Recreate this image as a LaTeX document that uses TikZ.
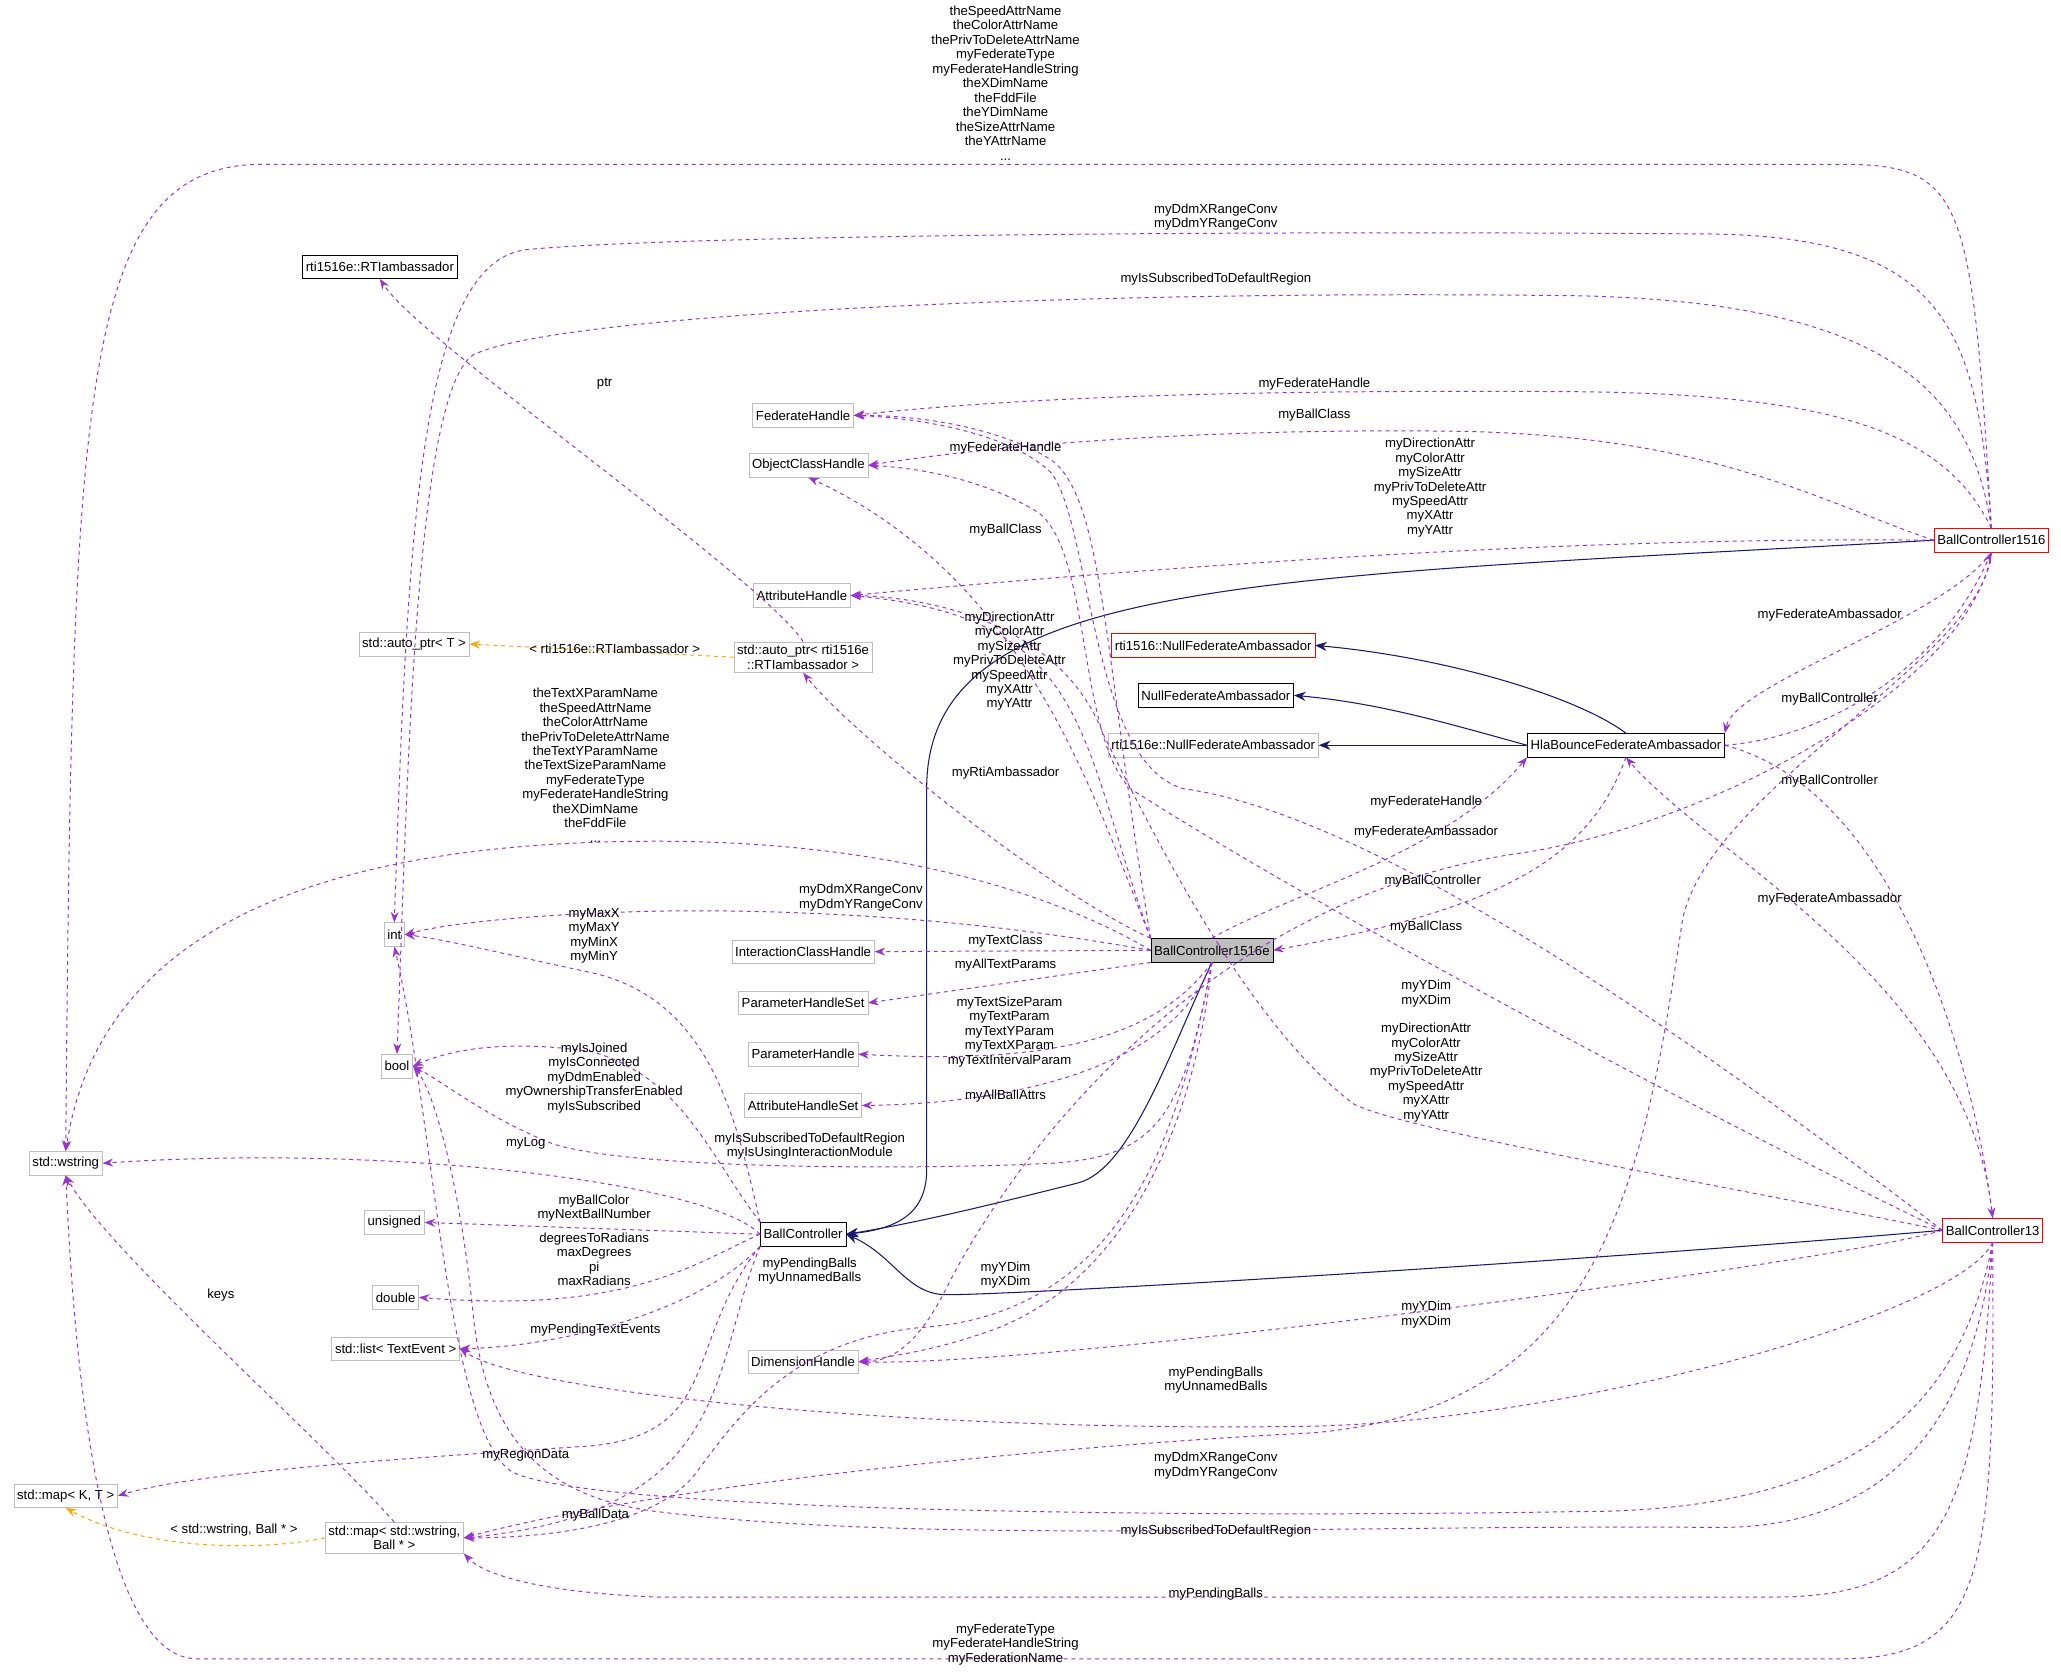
\documentclass[tikz,border=0pt]{standalone}
\usepackage{fontspec}
\setmainfont{Liberation Sans}
\usetikzlibrary{arrows.meta}
\definecolor{dp}{HTML}{9A32CD}
\definecolor{nv}{HTML}{191970}
\definecolor{gb}{HTML}{BFBFBF}
\definecolor{or}{HTML}{FFA500}
\begin{document}
\begin{tikzpicture}[x=1pt,y=-1pt,
 every node/.style={font=\fontsize{10}{11}\selectfont},
 bx/.style={draw=gb,fill=white,inner sep=2.5pt,minimum height=18,align=center},
 bb/.style={bx,draw=black},
 br/.style={bx,draw=red},
 lb/.style={align=center,inner sep=0pt},
 dep/.style={draw=dp,dashed,line width=0.75pt,-{Stealth[length=8,width=6]}},
 inh/.style={draw=nv,thick,-{Stealth[length=9,width=7]}},
 tpl/.style={draw=or,dashed,line width=0.75pt,-{Stealth[length=8,width=6]}}]
\useasboundingbox (0,0) rectangle (1568,1276);
% nodes
\node[bb] (rti) at (289,203) {rti1516e::RTIambassador};
\node[bx] (fh) at (611,316) {FederateHandle};
\node[bx] (och) at (615,354) {ObjectClassHandle};
\node[bx] (ah) at (610,453) {AttributeHandle};
\node[bx] (apt) at (315,490) {std::auto\_ptr< T >};
\node[bx] (apr) at (611,500) {std::auto\_ptr< rti1516e\\::RTIambassador >};
\node[br] (nfa1) at (923,491) {rti1516::NullFederateAmbassador};
\node[bb] (nfa) at (925,529) {NullFederateAmbassador};
\node[bx] (nfa2) at (923,567) {rti1516e::NullFederateAmbassador};
\node[bb] (hla) at (1237,567) {HlaBounceFederateAmbassador};
\node[br] (b16) at (1515,411) {BallController1516};
\node[bx] (int) at (300,711) {int};
\node[bx] (ich) at (611,724) {InteractionClassHandle};
\node[bb,fill=gb] (b16e) at (922,723) {BallController1516e};
\node[bx] (phs) at (611,763) {ParameterHandleSet};
\node[bx] (bool) at (302,811) {bool};
\node[bx] (ph) at (611,802) {ParameterHandle};
\node[bx] (ahs) at (611,841) {AttributeHandleSet};
\node[bx] (ws) at (50,885) {std::wstring};
\node[bx] (uns) at (300,930) {unsigned};
\node[bb] (bc) at (611,939) {BallController};
\node[br] (b13) at (1516,936) {BallController13};
\node[bx] (dbl) at (301,987) {double};
\node[bx] (lst) at (301,1026) {std::list< TextEvent >};
\node[bx] (dh) at (611,1036) {DimensionHandle};
\node[bx] (mkt) at (50,1138) {std::map< K, T >};
\node[bx] (mwb) at (300,1170) {std::map< std::wstring,\\Ball * >};
% inheritance
\draw[inh] (b16.west) .. controls (950,440) and (705,440) .. (705,600) -- (705,890) .. controls (705,925) and (680,935) .. (bc.east);
\draw[inh] (b16e.south) .. controls (890,800) and (860,890) .. (820,900) .. controls (760,915) and (700,930) .. (bc.east);
\draw[inh] (b13.west) .. controls (1200,960) and (780,985) .. (720,985) .. controls (690,985) and (680,955) .. (bc.east);
\draw[inh] (hla.north) .. controls (1200,530) and (1100,500) .. (nfa1.east);
\draw[inh] (hla.west) .. controls (1100,550) and (1050,535) .. (nfa.east);
\draw[inh] (hla.west) -- (nfa2.east);
% templates
\draw[tpl] (apr.west) -- node[lb,above,pos=0.45,yshift=-2]{< rti1516e::RTIambassador >} (apt.east);
\draw[tpl] (mwb.west) .. controls (200,1180) and (110,1180) .. (mkt.south);
\node[lb] (l1) at (178,1164) {< std::wstring, Ball * >};
% BC1516 deps
\draw[dep] (b16.north) .. controls (1500,150) and (1495,125) .. (1400,125) -- (200,125) .. controls (60,125) and (55,300) .. (ws.north);
\node[lb,anchor=south] (t1) at (765,122) {theSpeedAttrName\\theColorAttrName\\thePrivToDeleteAttrName\\myFederateType\\myFederateHandleString\\theXDimName\\theFddFile\\theYDimName\\theSizeAttrName\\theYAttrName\\...};
\draw[dep] (b16.north) .. controls (1505,250) and (1480,180) .. (1300,178) .. controls (900,175) and (500,180) .. (400,190) .. controls (320,200) and (310,400) .. (int.north);
\node[lb] (t2) at (925,165) {myDdmXRangeConv\\myDdmYRangeConv};
\draw[dep] (b16.north) .. controls (1500,300) and (1440,230) .. (1200,225) .. controls (800,220) and (420,240) .. (360,270) .. controls (315,300) and (310,600) .. (bool.north);
\node[lb] (t3) at (925,212) {myIsSubscribedToDefaultRegion};
\draw[dep] (b16.north) .. controls (1480,330) and (1400,300) .. (1200,298) .. controls (900,296) and (750,305) .. (fh.east);
\node[lb] (t4) at (1000,292) {myFederateHandle};
\draw[dep] (b16.west) .. controls (1380,380) and (1300,330) .. (1100,328) .. controls (900,326) and (750,340) .. (och.east);
\node[lb] (t5) at (1000,316) {myBallClass};
\draw[dep] (b16.west) .. controls (1200,408) and (900,430) .. (ah.east);
\node[lb] (t6) at (1088,371) {myDirectionAttr\\myColorAttr\\mySizeAttr\\myPrivToDeleteAttr\\mySpeedAttr\\myXAttr\\myYAttr};
\draw[dep] (b16.south) .. controls (1480,470) and (1320,520) .. (hla.north east);
\node[lb] (t7) at (1392,468) {myFederateAmbassador};
\draw[dep] (b16.south) .. controls (1500,520) and (1300,630) .. (1150,650) .. controls (900,690) and (760,900) .. (720,980) .. controls (700,1020) and (680,1036) .. (dh.east);
\node[lb] (t8) at (1085,756) {myYDim\\myXDim};
\draw[dep] (b16.south) .. controls (1510,500) and (1300,600) .. (1280,700) .. controls (1250,900) and (1220,1070) .. (1000,1090) .. controls (800,1100) and (500,1130) .. (mwb.east);
\node[lb] (t9) at (925,1050) {myPendingBalls\\myUnnamedBalls};
% HLA deps
\draw[dep] (hla.south) .. controls (1210,650) and (1150,690) .. (b16e.east);
\node[lb] (t10) at (1090,670) {myBallController};
\draw[dep] (hla.east) .. controls (1400,560) and (1480,500) .. (b16.south);
\node[lb] (t11) at (1392,532) {myBallController};
\draw[dep] (hla.east) .. controls (1440,600) and (1500,800) .. (b13.north);
\node[lb] (t12) at (1392,594) {myBallController};
% BC13 deps
\draw[dep] (b13.north) .. controls (1500,750) and (1300,650) .. (hla.south);
\node[lb] (t13) at (1392,684) {myFederateAmbassador};
\draw[dep] (b13.west) .. controls (1300,800) and (1050,620) .. (900,600) .. controls (830,580) and (830,400) .. (800,360) .. controls (770,330) and (700,318) .. (fh.east);
\node[lb] (t14) at (1085,610) {myFederateHandle};
\draw[dep] (b13.west) .. controls (1300,900) and (1070,860) .. (1030,840) .. controls (950,780) and (880,640) .. (840,560) .. controls (810,480) and (720,455) .. (ah.east);
\node[lb] (t15) at (1085,816) {myDirectionAttr\\myColorAttr\\mySizeAttr\\myPrivToDeleteAttr\\mySpeedAttr\\myXAttr\\myYAttr};
\draw[dep] (b13.west) .. controls (1300,850) and (1000,690) .. (860,600) .. controls (820,560) and (830,420) .. (790,390) .. controls (750,365) and (700,356) .. (och.east);
\node[lb] (t16) at (1085,705) {myBallClass};
\draw[dep] (b13.west) .. controls (1400,960) and (800,1040) .. (dh.east);
\node[lb] (t17) at (1085,1000) {myYDim\\myXDim};
\draw[dep] (b13.south) .. controls (1490,1000) and (1200,1080) .. (1000,1085) .. controls (700,1090) and (400,1060) .. (lst.east);
\node[lb] (t18) at (925,1115) {myDdmXRangeConv\\myDdmYRangeConv};
\draw[dep] (b13.south) .. controls (1490,1080) and (1400,1150) .. (1200,1150) .. controls (900,1155) and (450,1150) .. (390,1120) .. controls (340,1090) and (330,850) .. (int.south);
\draw[dep] (b13.south) .. controls (1500,1100) and (1420,1165) .. (1300,1162) .. controls (1000,1160) and (700,1175) .. (500,1150) .. controls (420,1140) and (370,1100) .. (360,1000) .. controls (350,900) and (330,830) .. (bool.east);
\node[lb] (t19) at (925,1165) {myIsSubscribedToDefaultRegion};
\draw[dep] (b13.south) .. controls (1505,1150) and (1480,1215) .. (1350,1215) -- (500,1215) .. controls (420,1212) and (370,1200) .. (mwb.south east);
\node[lb] (t20) at (925,1213) {myPendingBalls};
\draw[dep] (b13.south) .. controls (1518,1200) and (1510,1262) .. (1400,1262) -- (150,1262) .. controls (70,1262) and (55,1000) .. (ws.south);
\node[lb] (t21) at (765,1251) {myFederateType\\myFederateHandleString\\myFederationName};
% BC1516e deps
\draw[dep] (b16e.west) .. controls (820,690) and (700,640) .. (500,640) .. controls (300,640) and (80,680) .. (ws.north);
\node[lb,anchor=south] (t22) at (453,641) {theTextXParamName\\theSpeedAttrName\\theColorAttrName\\thePrivToDeleteAttrName\\theTextYParamName\\theTextSizeParamName\\myFederateType\\myFederateHandleString\\theXDimName\\theFddFile\\...};
\draw[dep] (b16e.west) .. controls (800,710) and (700,695) .. (550,693) .. controls (450,692) and (350,700) .. (int.east);
\node[lb] (t23) at (655,683) {myDdmXRangeConv\\myDdmYRangeConv};
\draw[dep] (b16e.west) -- (ich.east);
\node[lb] (t24) at (765,716) {myTextClass};
\draw[dep] (b16e.south west) -- (phs.east);
\node[lb] (t25) at (765,734) {myAllTextParams};
\draw[dep] (b16e.south) .. controls (880,790) and (800,810) .. (ph.east);
\node[lb] (t26) at (768,785) {myTextSizeParam\\myTextParam\\myTextYParam\\myTextXParam\\myTextIntervalParam};
\draw[dep] (b16e.south) .. controls (890,820) and (750,840) .. (ahs.east);
\node[lb] (t27) at (765,834) {myAllBallAttrs};
\draw[dep] (b16e.south) .. controls (900,850) and (880,880) .. (800,885) .. controls (700,890) and (480,890) .. (420,870) .. controls (370,850) and (340,825) .. (bool.east);
\node[lb] (t28) at (616,872) {myIsSubscribedToDefaultRegion\\myIsUsingInteractionModule};
\draw[dep] (b16e.south) .. controls (910,850) and (860,970) .. (760,1010) .. controls (720,1025) and (690,1030) .. (dh.east);
\node[lb] (t29) at (765,970) {myYDim\\myXDim};
\draw[dep] (b16e.south) .. controls (900,850) and (860,1000) .. (700,1010) .. controls (600,1020) and (560,1080) .. (530,1120) .. controls (500,1160) and (420,1170) .. (mwb.east);
\node[lb] (t30) at (616,967) {myPendingBalls\\myUnnamedBalls};
\draw[dep] (b16e.north west) .. controls (840,500) and (840,380) .. (800,350) .. controls (760,325) and (700,316) .. (fh.east);
\node[lb] (t31) at (765,341) {myFederateHandle};
\draw[dep] (b16e.north west) .. controls (830,600) and (780,440) .. (och.south);
\node[lb] (t32) at (765,403) {myBallClass};
\draw[dep] (b16e.north west) .. controls (820,560) and (830,470) .. (ah.east);
\node[lb] (t33) at (768,503) {myDirectionAttr\\myColorAttr\\mySizeAttr\\myPrivToDeleteAttr\\mySpeedAttr\\myXAttr\\myYAttr};
\draw[dep] (b16e.north west) .. controls (800,680) and (650,560) .. (apr.south);
\node[lb] (t34) at (765,588) {myRtiAmbassador};
\draw[dep] (b16e.north) .. controls (980,680) and (1100,650) .. (hla.south west);
\node[lb] (t35) at (1085,633) {myFederateAmbassador};
\draw[dep] (apr.north) .. controls (580,440) and (320,260) .. (rti.south);
\node[lb] (t36) at (460,292) {ptr};
% BallController deps
\draw[dep] (bc.north west) .. controls (560,850) and (540,760) .. (450,740) .. controls (380,725) and (340,715) .. (int.east);
\node[lb] (t37) at (452,712) {myMaxX\\myMaxY\\myMinX\\myMinY};
\draw[dep] (bc.north west) .. controls (540,880) and (520,820) .. (450,800) .. controls (380,790) and (340,800) .. (bool.east);
\node[lb] (t38) at (452,820) {myIsJoined\\myIsConnected\\myDdmEnabled\\myOwnershipTransferEnabled\\myIsSubscribed};
\draw[dep] (bc.west) .. controls (540,900) and (300,870) .. (ws.east);
\node[lb] (t39) at (400,870) {myLog};
\draw[dep] (bc.west) -- (uns.east);
\node[lb] (t40) at (452,919) {myBallColor\\myNextBallNumber};
\draw[dep] (bc.west) .. controls (530,960) and (480,1000) .. (dbl.east);
\node[lb] (t41) at (452,958) {degreesToRadians\\maxDegrees\\pi\\maxRadians};
\draw[dep] (bc.south west) .. controls (530,1000) and (420,1025) .. (lst.east);
\node[lb] (t42) at (453,1012) {myPendingTextEvents};
\draw[dep] (bc.south west) .. controls (520,1020) and (550,1090) .. (450,1100) .. controls (300,1110) and (150,1120) .. (mkt.east);
\node[lb] (t43) at (400,1107) {myRegionData};
\draw[dep] (bc.south west) .. controls (540,1040) and (560,1150) .. (mwb.east);
\node[lb] (t44) at (453,1153) {myBallData};
\draw[dep] (mwb.north) .. controls (250,1100) and (80,950) .. (ws.south);
\node[lb] (t45) at (168,985) {keys};
\end{tikzpicture}
\end{document}
